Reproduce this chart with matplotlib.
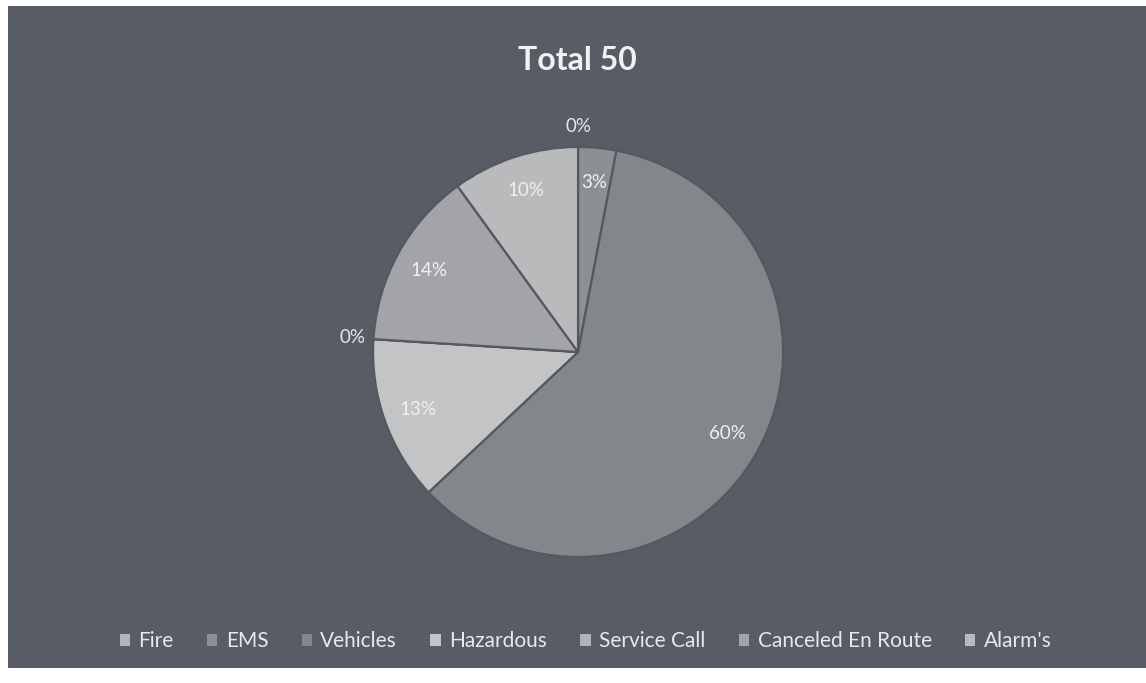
import matplotlib.pyplot as plt
from matplotlib.patches import Rectangle
import numpy as np

plt.rcParams['font.family'] = ['Lato', 'DejaVu Sans']

categories = ["Fire", "EMS", "Vehicles", "Hazardous", "Service Call",
              "Canceled En Route", "Alarm's"]
shares = [0, 3, 60, 13, 0, 14, 10]
slice_colors = ["#b4b6b8", "#8c8f93", "#83868a", "#c2c4c6", "#b0b2b4",
                "#a2a4a7", "#b8babc"]
title = "Total 50"

bg = "#585c64"

fig = plt.figure(figsize=(11.46, 6.83), dpi=100)
fig.patch.set_facecolor("white")
# scanned page: dark chart area with a thin white margin
fig.add_artist(Rectangle((8 / 1146, 1 - 668 / 683), 1 - 8 / 1146, (668 - 6) / 683,
                         transform=fig.transFigure, facecolor=bg, edgecolor="none", zorder=0))

ax = fig.add_axes([0.3255, 0.1845, 0.3578, 0.6003])
ax.set_facecolor("none")

wedges, _ = ax.pie(shares, colors=slice_colors, startangle=90, counterclock=False,
                   radius=1.0, wedgeprops=dict(edgecolor="#55585e", linewidth=1.6))

for w, v in zip(wedges, shares):
    mid = np.deg2rad((w.theta1 + w.theta2) / 2)
    if v == 0:
        r = 1.1
        col = "#e6e6e6"
    else:
        r = 0.83
        col = "#f0f0f0"
    ax.text(r * np.cos(mid), r * np.sin(mid), f"{v}%", ha="center", va="center",
            fontsize=13.5, color=col)

ax.set_xlim(-1, 1)
ax.set_ylim(-1, 1)
ax.set_aspect("equal")
ax.axis("off")

fig.text(0.504, 1 - 60 / 683, title, ha="center", va="center", fontsize=23,
         fontweight="bold", color="#f2f2f2")

handles = [Rectangle((0, 0), 1, 1, facecolor=c, edgecolor="none") for c in slice_colors]
leg = fig.legend(handles, categories, loc="center", bbox_to_anchor=(0.511, 1 - 641 / 683),
                 ncol=7, frameon=False, fontsize=15, handlelength=0.5, handleheight=0.5,
                 columnspacing=1.6, handletextpad=0.4)
for t in leg.get_texts():
    t.set_color("#e8e8e8")

fig.savefig("out.png", dpi=100, facecolor=fig.get_facecolor())
